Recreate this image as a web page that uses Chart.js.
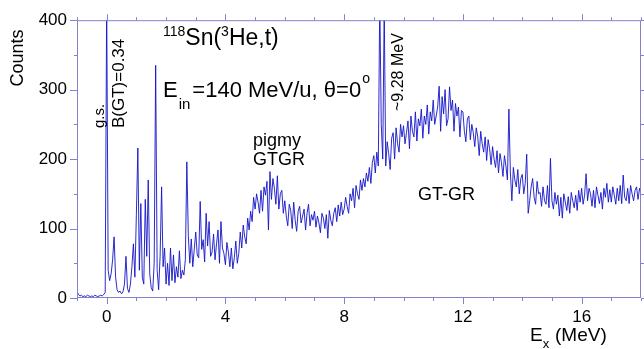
<!DOCTYPE html>
<html>
<head>
<meta charset="utf-8">
<script src="https://cdn.jsdelivr.net/npm/chart.js@4.4.0/dist/chart.umd.min.js"></script>
<style>
    html, body { margin: 0; padding: 0; background: #fff; }
</style>
</head>
<body>
<canvas id="spectrum" width="644" height="349"></canvas>
<script>
// 118Sn(3He,t) spectrum, channels every 0.05 MeV from -1 to 18 MeV
const EX_START = -1;
const EX_STEP = 0.05;
const counts = [
    9, 5, 3, 4, 2, 3, 2, 4, 3, 2, 3, 2, 4, 3, 2, 3, 4, 3, 5, 8,
    430, 40, 25, 35, 55, 88, 30, 12, 8, 10, 6, 9, 20, 60, 14, 8, 20, 45, 78, 30,
    120, 216, 40, 136, 30, 20, 142, 60, 170, 35, 15, 10, 50, 335, 40, 12, 60, 160, 45, 72,
    20, 50, 18, 72, 25, 62, 22, 45, 30, 68, 28, 40, 33, 55, 196, 90, 50, 85, 45, 70,
    95, 62, 58, 139, 70, 84, 52, 122, 75, 110, 60, 66, 92, 55, 78, 98, 50, 110, 72, 64,
    48, 80, 66, 45, 72, 42, 58, 82, 50, 64, 95, 72, 105, 88, 78, 115, 98, 125, 110, 145,
    128, 150, 138, 122, 155, 125, 160, 148, 168, 98, 182, 142, 172, 158, 135, 176, 128, 150, 155, 122,
    140, 118, 104, 135, 126, 100, 138, 112, 96, 125, 132, 108, 118, 128, 98, 122, 135, 104, 120, 112,
    125, 102, 118, 108, 94, 122, 115, 100, 120, 86, 126, 112, 104, 122, 130, 110, 134, 118, 138, 120,
    128, 145, 132, 122, 150, 140, 158, 130, 162, 150, 142, 170, 155, 172, 160, 180, 168, 188, 165, 195,
    205, 180, 210, 190, 430, 250, 200, 420, 190, 225, 208, 185, 230, 238, 200, 245, 222, 210, 250, 232,
    248, 222, 238, 255, 215, 262, 240, 232, 268, 226, 258, 248, 272, 230, 262, 250, 278, 236, 268, 255,
    285, 250, 262, 275, 305, 240, 290, 265, 300, 248, 258, 304, 270, 285, 240, 280, 262, 275, 232, 270,
    268, 240, 225, 258, 262, 228, 250, 238, 218, 245, 232, 205, 240, 222, 210, 232, 198, 228, 215, 192,
    218, 200, 188, 212, 180, 208, 195, 175, 205, 190, 170, 272, 180, 140, 188, 170, 160, 185, 150, 172,
    178, 150, 165, 207, 122, 140, 160, 172, 145, 135, 168, 150, 152, 132, 160, 140, 135, 162, 130, 201,
    140, 128, 152, 135, 148, 118, 145, 115, 150, 138, 126, 146, 122, 152, 140, 130, 148, 126, 155, 138,
    158, 135, 148, 179, 140, 158, 150, 132, 155, 130, 160, 148, 136, 152, 128, 158, 145, 165, 138, 156,
    138, 160, 148, 135, 158, 140, 162, 136, 177, 145, 140, 158, 136, 162, 150, 140, 155, 160, 142, 158,
    150,
];
const xTickLabels = [0, 4, 8, 12, 16];
const yTickLabels = [0, 100, 200, 300, 400];
const X_MIN = -1, X_MAX = 18;
const Y_MIN = 0, Y_MAX = 400;

const FONT = '"Liberation Sans", Arial, sans-serif';
const FRAME = '#8282cc';

function drawText(ctx, s, x, y, size, align = 'left') {
    ctx.font = `${size}px ${FONT}`;
    ctx.textAlign = align;
    ctx.fillText(s, x, y);
    return x + ctx.measureText(s).width;
}

function drawRotated(ctx, s, x, y, size, align = 'left') {
    ctx.save();
    ctx.translate(x, y);
    ctx.rotate(-Math.PI / 2);
    drawText(ctx, s, 0, 0, size, align);
    ctx.restore();
}

const framePlugin = {
    id: 'framePlugin',
    afterDraw: (chart) => {
        const { ctx, chartArea: a, scales: { x, y } } = chart;
        ctx.save();
        ctx.strokeStyle = FRAME;
        ctx.lineWidth = 1;
        ctx.strokeRect(a.left + 0.5, a.top + 0.5, a.right - a.left - 1, a.bottom - a.top - 1);

        ctx.beginPath();
        for (let v = X_MIN; v <= X_MAX; v++) {
            const px = Math.round(x.getPixelForValue(v)) + 0.5;
            const len = xTickLabels.includes(v) ? 6 : 3;
            ctx.moveTo(px, a.bottom); ctx.lineTo(px, a.bottom + len);
            ctx.moveTo(px, a.top); ctx.lineTo(px, a.top - len);
        }
        for (let v = Y_MIN; v <= Y_MAX; v += 50) {
            const py = Math.round(y.getPixelForValue(v)) + 0.5;
            const len = yTickLabels.includes(v) ? 7 : 3;
            ctx.moveTo(a.left, py); ctx.lineTo(a.left - len, py);
            ctx.moveTo(a.right, py); ctx.lineTo(a.right + len, py);
        }
        ctx.stroke();

        ctx.fillStyle = '#000';
        ctx.textBaseline = 'alphabetic';

        // reaction
        let cx = drawText(ctx, '118', 163, 36, 14);
        cx = drawText(ctx, 'Sn(', cx, 45, 23);
        cx = drawText(ctx, '3', cx, 36, 14);
        drawText(ctx, 'He,t)', cx, 45, 23);

        cx = drawText(ctx, 'E', 163, 97, 22);
        cx = drawText(ctx, 'in', cx + 1, 109, 15);
        cx = drawText(ctx, '=140 MeV/u, \u03b8=0', cx + 2, 97, 22);
        drawText(ctx, 'o', cx + 1, 83, 14);

        // peak labels
        drawRotated(ctx, 'g.s.', 104, 128, 15);
        drawRotated(ctx, 'B(GT)=0.34', 124, 128, 17);
        drawRotated(ctx, '~9.28 MeV', 403, 111, 16);
        drawText(ctx, 'pigmy', 253, 146, 18);
        drawText(ctx, 'GTGR', 253, 165, 18);
        drawText(ctx, 'GT-GR', 418, 200, 18);

        // axis titles
        drawRotated(ctx, 'Counts', 23, 58, 18, 'center');
        cx = drawText(ctx, 'E', 530, 341, 19);
        drawText(ctx, 'x', cx, 348, 13);
        drawText(ctx, '(MeV)', 555, 341, 19);
        ctx.restore();
    },
};

const points = counts.map((c, i) => ({ x: EX_START + i * EX_STEP, y: c }));

new Chart(document.getElementById('spectrum'), {
    type: 'line',
    data: {
        datasets: [{
            data: points,
            borderColor: 'rgba(20, 20, 200, 0.9)',
            borderWidth: 1,
            pointRadius: 0,
            tension: 0,
            fill: false,
        }],
    },
    options: {
        responsive: false,
        animation: false,
        events: [],
        layout: { padding: { top: 15, right: 3, left: 0, bottom: 0 } },
        plugins: { legend: { display: false }, tooltip: { enabled: false } },
        scales: {
            x: {
                type: 'linear',
                min: X_MIN,
                max: X_MAX,
                afterBuildTicks: (scale) => { scale.ticks = xTickLabels.map(value => ({ value })); },
                afterFit: (scale) => { scale.height = 51; },
                grid: { display: false, drawTicks: false },
                border: { display: false },
                ticks: { padding: 9, color: '#000', font: { family: FONT, size: 17 }, maxRotation: 0 },
            },
            y: {
                min: Y_MIN,
                max: Y_MAX,
                afterBuildTicks: (scale) => { scale.ticks = yTickLabels.map(value => ({ value })); },
                afterFit: (scale) => { scale.width = 77; },
                grid: { display: false, drawTicks: false },
                border: { display: false },
                ticks: { padding: 10, color: '#000', font: { family: FONT, size: 17 } },
            },
        },
    },
    plugins: [framePlugin],
});
</script>
</body>
</html>
